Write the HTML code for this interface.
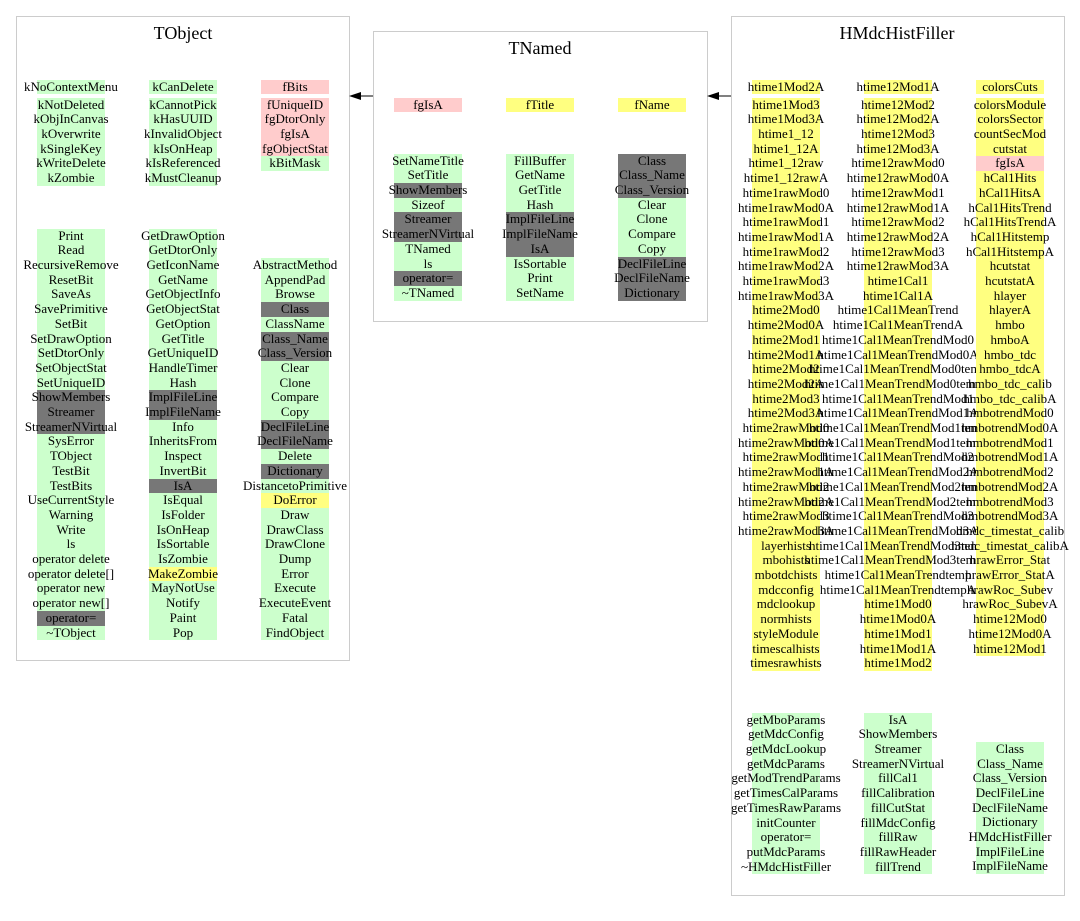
<!DOCTYPE html>
<html><head><meta charset="utf-8"><title>Class diagram</title>
<style>
html,body{margin:0;padding:0;background:#fff;}
#root{position:relative;width:1080px;height:921px;overflow:hidden;font-family:"Liberation Serif",serif;}
.box{position:absolute;border:1px solid #cccccc;box-sizing:border-box;background:#fff;}
.title{position:absolute;font-size:18px;line-height:20px;text-align:center;white-space:nowrap;color:#000;}
.cell{position:absolute;height:14.7px;}
.txt{position:absolute;font-size:13px;line-height:14.7px;white-space:nowrap;text-align:center;width:300px;color:#000;}
</style></head><body>
<div id="root">
<div class="box" style="left:16px;top:16px;width:334px;height:645px"></div>
<div class="box" style="left:373px;top:31px;width:335px;height:291px"></div>
<div class="box" style="left:731px;top:16px;width:334px;height:880px"></div>
<div class="title" style="left:83px;width:200px;top:23px">TObject</div>
<div class="title" style="left:440px;width:200px;top:38px">TNamed</div>
<div class="title" style="left:797px;width:200px;top:23px">HMdcHistFiller</div>
<svg width="1080" height="921" style="position:absolute;left:0;top:0">
<line x1="373" y1="96" x2="358" y2="96" stroke="#000" stroke-width="1"/>
<polygon points="349,96 361,92 361,100" fill="#000"/>
<line x1="731" y1="96" x2="716" y2="96" stroke="#000" stroke-width="1"/>
<polygon points="707,96 719,92 719,100" fill="#000"/>
</svg>
</div>
<script>
const COLORS={g:'#ccffcc',y:'#ffff80',p:'#ffcccc',d:'#777777'};
const STEP=14.7;
function parse(list){return list.map(s=>{const i=s.indexOf(':');return i>0&&s.length>1&&'gypd'.includes(s[0])&&s[1]===':'?[s.slice(2),s[0]]:[s,'g'];});}
const root=document.getElementById('root');
function col(cx,firstY,items,prefix){
  items=parse(items);
  items.forEach((it,i)=>{
    const y=firstY+i*STEP;
    const c=document.createElement('div');
    c.className='cell';
    c.style.left=(cx-34)+'px';c.style.width='68px';
    c.style.top=(y-7.35)+'px';c.style.background=COLORS[it[1]];
    
    
    root.appendChild(c);
    const t=document.createElement('div');
    t.className='txt';t.style.left=(cx-150)+'px';t.style.top=(y-7.35)+'px';
    t.textContent=it[0];
    
    
    root.appendChild(t);
  });
}
// TObject
col(71,87,['kNoContextMenu'],'tobject-data');
col(183,87,['kCanDelete'],'tobject-data');
col(295,87,['p:fBits'],'tobject-data');
col(71,105,['kNotDeleted','kObjInCanvas','kOverwrite','kSingleKey','kWriteDelete','kZombie'],'tobject-data');
col(183,105,['kCannotPick','kHasUUID','kInvalidObject','kIsOnHeap','kIsReferenced','kMustCleanup'],'tobject-data');
col(295,105,['p:fUniqueID','p:fgDtorOnly','p:fgIsA','p:fgObjectStat','kBitMask'],'tobject-data');
col(71,236,['Print','Read','RecursiveRemove','ResetBit','SaveAs','SavePrimitive','SetBit','SetDrawOption','SetDtorOnly','SetObjectStat','SetUniqueID','d:ShowMembers','d:Streamer','d:StreamerNVirtual','SysError','TObject','TestBit','TestBits','UseCurrentStyle','Warning','Write','ls','operator delete','operator delete[]','operator new','operator new[]','d:operator=','~TObject'],'tobject-method');
col(183,236,['GetDrawOption','GetDtorOnly','GetIconName','GetName','GetObjectInfo','GetObjectStat','GetOption','GetTitle','GetUniqueID','HandleTimer','Hash','d:ImplFileLine','d:ImplFileName','Info','InheritsFrom','Inspect','InvertBit','d:IsA','IsEqual','IsFolder','IsOnHeap','IsSortable','IsZombie','y:MakeZombie','MayNotUse','Notify','Paint','Pop'],'tobject-method');
col(295,236+2*STEP,['AbstractMethod','AppendPad','Browse','d:Class','ClassName','d:Class_Name','d:Class_Version','Clear','Clone','Compare','Copy','d:DeclFileLine','d:DeclFileName','Delete','d:Dictionary','DistancetoPrimitive','y:DoError','Draw','DrawClass','DrawClone','Dump','Error','Execute','ExecuteEvent','Fatal','FindObject'],'tobject-method');
// TNamed
col(428,105,['p:fgIsA'],'tnamed-data');
col(540,105,['y:fTitle'],'tnamed-data');
col(652,105,['y:fName'],'tnamed-data');
col(428,161,['SetNameTitle','SetTitle','d:ShowMembers','Sizeof','d:Streamer','d:StreamerNVirtual','TNamed','ls','d:operator=','~TNamed'],'tnamed-method');
col(540,161,['FillBuffer','GetName','GetTitle','Hash','d:ImplFileLine','d:ImplFileName','d:IsA','IsSortable','Print','SetName'],'tnamed-method');
col(652,161,['d:Class','d:Class_Name','d:Class_Version','Clear','Clone','Compare','Copy','d:DeclFileLine','d:DeclFileName','d:Dictionary'],'tnamed-method');
// HMdcHistFiller
col(786,87,['y:htime1Mod2A'],'hmdc-data');
col(898,87,['y:htime12Mod1A'],'hmdc-data');
col(1010,87,['y:colorsCuts'],'hmdc-data');
col(786,105,['htime1Mod3','htime1Mod3A','htime1_12','htime1_12A','htime1_12raw','htime1_12rawA','htime1rawMod0','htime1rawMod0A','htime1rawMod1','htime1rawMod1A','htime1rawMod2','htime1rawMod2A','htime1rawMod3','htime1rawMod3A','htime2Mod0','htime2Mod0A','htime2Mod1','htime2Mod1A','htime2Mod2','htime2Mod2A','htime2Mod3','htime2Mod3A','htime2rawMod0','htime2rawMod0A','htime2rawMod1','htime2rawMod1A','htime2rawMod2','htime2rawMod2A','htime2rawMod3','htime2rawMod3A','layerhists','mbohists','mbotdchists','mdcconfig','mdclookup','normhists','styleModule','timescalhists','timesrawhists'].map(s=>'y:'+s),'hmdc-data');
col(898,105,['htime12Mod2','htime12Mod2A','htime12Mod3','htime12Mod3A','htime12rawMod0','htime12rawMod0A','htime12rawMod1','htime12rawMod1A','htime12rawMod2','htime12rawMod2A','htime12rawMod3','htime12rawMod3A','htime1Cal1','htime1Cal1A','htime1Cal1MeanTrend','htime1Cal1MeanTrendA','htime1Cal1MeanTrendMod0','htime1Cal1MeanTrendMod0A','htime1Cal1MeanTrendMod0temp','htime1Cal1MeanTrendMod0tempA','htime1Cal1MeanTrendMod1','htime1Cal1MeanTrendMod1A','htime1Cal1MeanTrendMod1temp','htime1Cal1MeanTrendMod1tempA','htime1Cal1MeanTrendMod2','htime1Cal1MeanTrendMod2A','htime1Cal1MeanTrendMod2temp','htime1Cal1MeanTrendMod2tempA','htime1Cal1MeanTrendMod3','htime1Cal1MeanTrendMod3A','htime1Cal1MeanTrendMod3temp','htime1Cal1MeanTrendMod3tempA','htime1Cal1MeanTrendtemp','htime1Cal1MeanTrendtempA','htime1Mod0','htime1Mod0A','htime1Mod1','htime1Mod1A','htime1Mod2'].map(s=>'y:'+s),'hmdc-data');
col(1010,105,['y:colorsModule','y:colorsSector','y:countSecMod','y:cutstat','p:fgIsA','y:hCal1Hits','y:hCal1HitsA','y:hCal1HitsTrend','y:hCal1HitsTrendA','y:hCal1Hitstemp','y:hCal1HitstempA','y:hcutstat','y:hcutstatA','y:hlayer','y:hlayerA','y:hmbo','y:hmboA','y:hmbo_tdc','y:hmbo_tdcA','y:hmbo_tdc_calib','y:hmbo_tdc_calibA','y:hmbotrendMod0','y:hmbotrendMod0A','y:hmbotrendMod1','y:hmbotrendMod1A','y:hmbotrendMod2','y:hmbotrendMod2A','y:hmbotrendMod3','y:hmbotrendMod3A','y:hmdc_timestat_calib','y:hmdc_timestat_calibA','y:hrawError_Stat','y:hrawError_StatA','y:hrawRoc_Subev','y:hrawRoc_SubevA','y:htime12Mod0','y:htime12Mod0A','y:htime12Mod1'],'hmdc-data');
col(786,720,['getMboParams','getMdcConfig','getMdcLookup','getMdcParams','getModTrendParams','getTimesCalParams','getTimesRawParams','initCounter','operator=','putMdcParams','~HMdcHistFiller'],'hmdc-method');
col(898,720,['IsA','ShowMembers','Streamer','StreamerNVirtual','fillCal1','fillCalibration','fillCutStat','fillMdcConfig','fillRaw','fillRawHeader','fillTrend'],'hmdc-method');
col(1010,720+2*14.6,['Class','Class_Name','Class_Version','DeclFileLine','DeclFileName','Dictionary','HMdcHistFiller','ImplFileLine','ImplFileName'],'hmdc-method');
</script>
</body></html>
